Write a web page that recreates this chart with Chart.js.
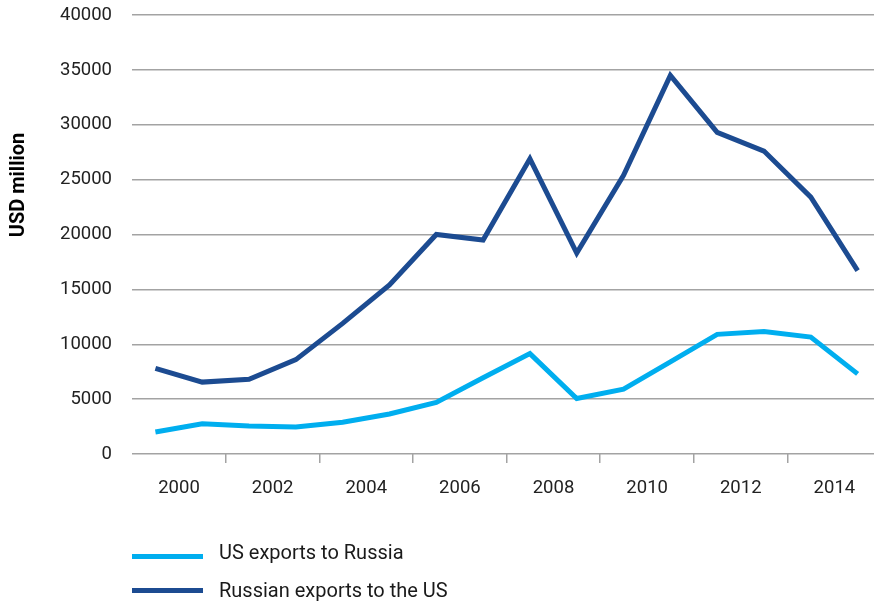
<!DOCTYPE html>
<html>
<head>
<meta charset="utf-8">
<title>US–Russia trade</title>
<script src="https://cdn.jsdelivr.net/npm/chart.js@4/dist/chart.umd.min.js"></script>
<style>
    html, body { margin: 0; padding: 0; background: #fff; }
    #wrap { position: relative; width: 874px; height: 601px; }
    #legend { position: absolute; left: 0; top: 0; width: 874px; height: 601px; pointer-events: none; }
    .legend-swatch { position: absolute; left: 132px; width: 71px; height: 5px; }
    .legend-text { position: absolute; left: 219px; font: 20px Roboto, sans-serif; line-height: 24px; color: #1a1a1a; white-space: nowrap; }
</style>
</head>
<body>
<div id="wrap">
    <canvas id="tradeChart"></canvas>
    <div id="legend"></div>
</div>
<script>
// Annual trade, USD million
const years = [2000, 2001, 2002, 2003, 2004, 2005, 2006, 2007, 2008, 2009, 2010, 2011, 2012, 2013, 2014, 2015];
const usExports = [2000, 2750, 2550, 2470, 2900, 3650, 4700, 6950, 9150, 5050, 5900, 8400, 10900, 11150, 10650, 7300];
const russiaExports = [7800, 6550, 6800, 8600, 11900, 15400, 20000, 19500, 26900, 18300, 25400, 34500, 29300, 27600, 23400, 16700];
const tickYears = [2000, 2002, 2004, 2006, 2008, 2010, 2012, 2014];
const seriesNames = ['US exports to Russia', 'Russian exports to the US'];
const seriesColors = ['#00aeef', '#1c4b91'];

document.addEventListener('DOMContentLoaded', function() {
    const ctx = document.getElementById('tradeChart').getContext('2d');

    // each year's value sits in the middle of its year
    function toPoints(values) {
        return values.map((v, i) => ({ x: years[i] + 0.5, y: v }));
    }

    // rotated axis caption, placed a bit above the middle of the axis
    const yCaption = {
        id: 'yCaption',
        afterDraw(chart) {
            const c = chart.ctx;
            c.save();
            c.translate(24, 185);
            c.rotate(-Math.PI / 2);
            c.font = 'bold 20px Roboto, sans-serif';
            c.fillStyle = '#000';
            c.textAlign = 'center';
            c.textBaseline = 'alphabetic';
            c.fillText('USD million', 0, 0);
            c.restore();
        }
    };

    const chart = new Chart(ctx, {
        type: 'line',
        data: {
            datasets: [
                {
                    label: seriesNames[0],
                    data: toPoints(usExports),
                    borderColor: seriesColors[0],
                    backgroundColor: seriesColors[0],
                    borderWidth: 5,
                    borderJoinStyle: 'miter',
                    pointRadius: 0,
                    tension: 0,
                    fill: false
                },
                {
                    label: seriesNames[1],
                    data: toPoints(russiaExports),
                    borderColor: seriesColors[1],
                    backgroundColor: seriesColors[1],
                    borderWidth: 5,
                    borderJoinStyle: 'miter',
                    pointRadius: 0,
                    tension: 0,
                    fill: false
                }
            ]
        },
        options: {
            responsive: true,
            maintainAspectRatio: false,
            animation: false,
            layout: { padding: { left: 0, right: 0, top: 15, bottom: 87 } },
            plugins: {
                legend: { display: false },
                tooltip: { enabled: false }
            },
            scales: {
                x: {
                    type: 'linear',
                    min: 2000,
                    max: 2015.85,
                    border: { display: false },
                    grid: {
                        drawOnChartArea: false,
                        drawTicks: true,
                        tickLength: 9,
                        lineWidth: 1.5,
                        color: c => (c.tick && c.tick.value === tickYears[0]) ? 'rgba(0,0,0,0)' : '#a3a3a3'
                    },
                    afterBuildTicks: scale => {
                        scale.ticks = tickYears.map(v => ({ value: v }));
                    },
                    afterFit: scale => { scale.height = 60; },
                    ticks: {
                        autoSkip: false,
                        maxRotation: 0,
                        labelOffset: 47,
                        padding: 14,
                        color: '#222',
                        font: { family: 'Roboto', size: 18.5 },
                        callback: value => String(value)
                    }
                },
                y: {
                    min: 0,
                    max: 40000,
                    border: { display: false },
                    grid: {
                        drawTicks: false,
                        lineWidth: 1.5,
                        color: '#a3a3a3'
                    },
                    afterFit: scale => {
                        scale.width = 132;
                        // tick padding is horizontal room only; keep the plot top where the layout puts it
                        scale.paddingTop = 0;
                        scale.paddingBottom = 0;
                    },
                    ticks: {
                        stepSize: 5000,
                        padding: 20,
                        color: '#222',
                        font: { family: 'Roboto', size: 18.5 },
                        callback: value => String(value)
                    }
                }
            }
        },
        plugins: [yCaption]
    });

    // legend stacked under the plot, built from the datasets
    const legendEl = document.getElementById('legend');
    const swatchTops = [554, 588];
    const textTops = [540, 578];
    chart.data.datasets.forEach((ds, i) => {
        const swatch = document.createElement('div');
        swatch.className = 'legend-swatch';
        swatch.style.top = swatchTops[i] + 'px';
        swatch.style.background = ds.borderColor;
        legendEl.appendChild(swatch);

        const text = document.createElement('div');
        text.className = 'legend-text';
        text.style.top = textTops[i] + 'px';
        text.textContent = ds.label;
        legendEl.appendChild(text);
    });
});
</script>
</body>
</html>
